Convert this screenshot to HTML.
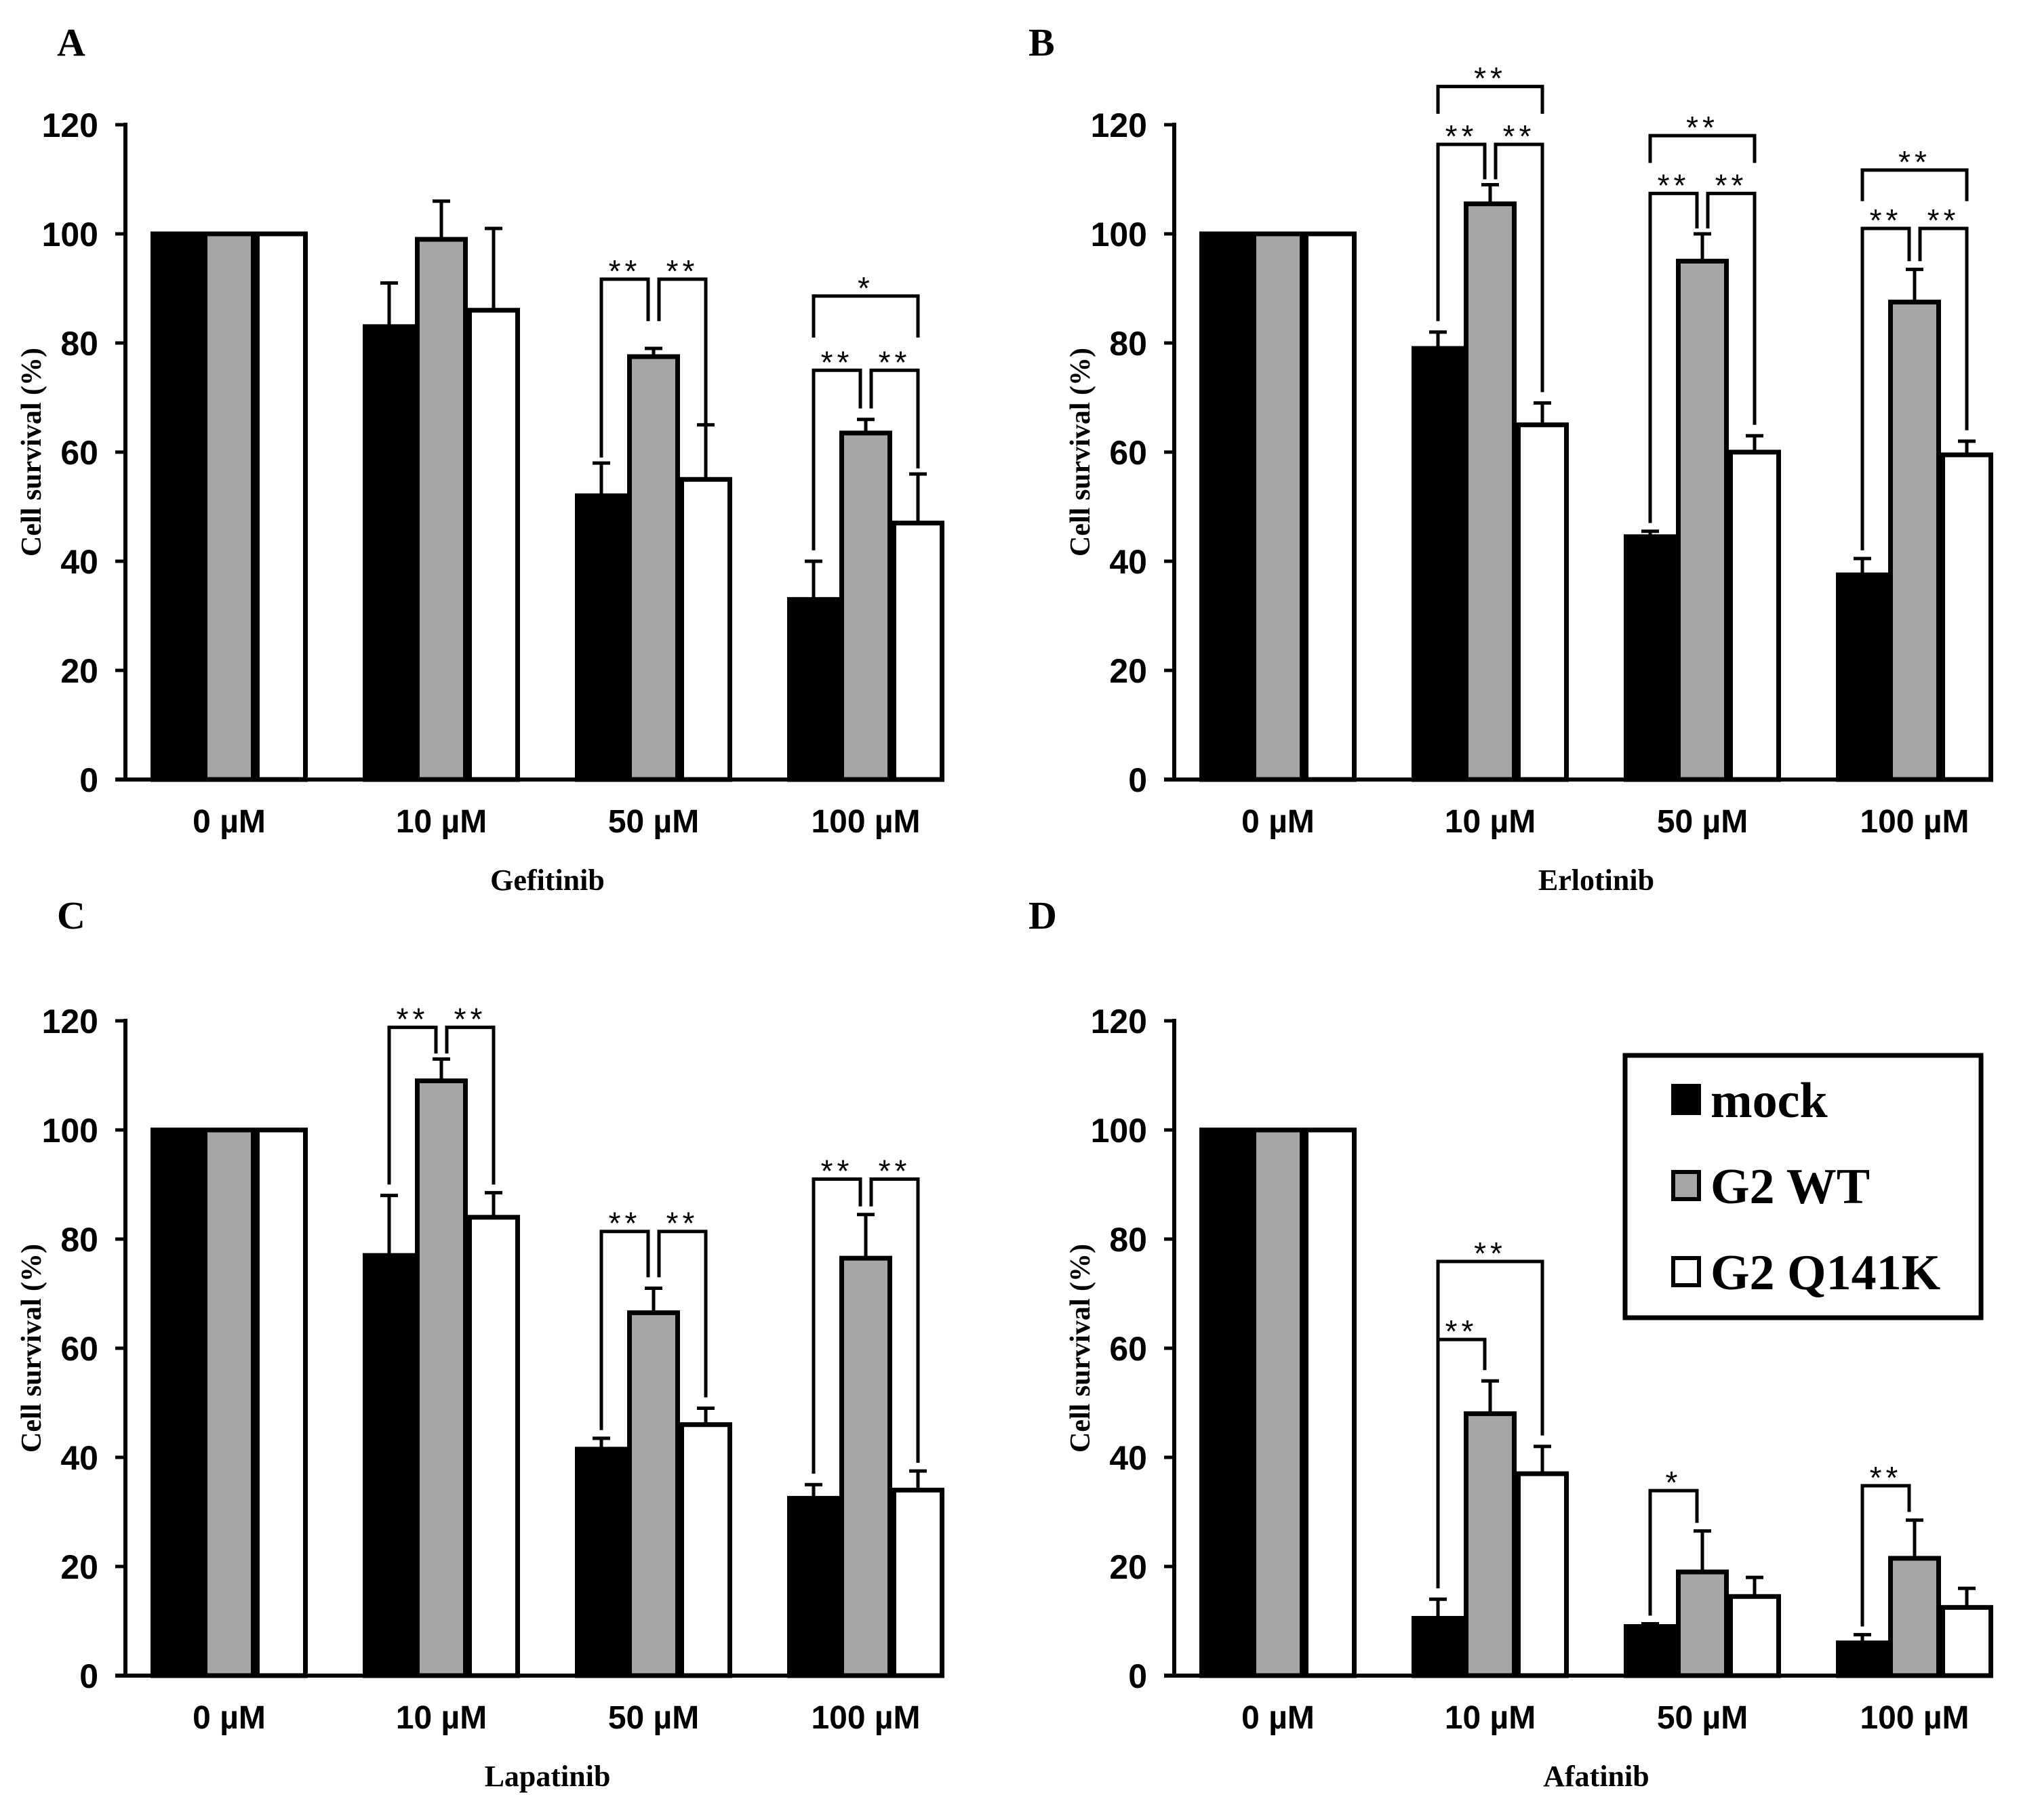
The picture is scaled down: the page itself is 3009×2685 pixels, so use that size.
<!DOCTYPE html>
<html><head><meta charset="utf-8"><style>
html,body{margin:0;padding:0;background:#fff;}
svg{display:block;}
</style></head><body>
<svg id="fig" width="3009" height="2685" viewBox="0 0 3009 2685" xmlns="http://www.w3.org/2000/svg"></svg>
<script>
const categories = ["0 µM","10 µM","50 µM","100 µM"];
const seriesNames = ["mock","G2 WT","G2 Q141K"];
const yTicks = [0,20,40,60,80,100,120];
const drugs = ["Gefitinib","Erlotinib","Lapatinib","Afatinib"];
const panelLetters = ["A","B","C","D"];
// values [group][series]
const valA = [[100,100,100],[83,99,86],[52,77.5,55],[33,63.5,47]];
const errA = [[100,100,100],[91,106,101],[58,79,65],[40,66,56]];
const valB = [[100,100,100],[79,105.5,65],[44.5,95,60],[37.5,87.5,59.5]];
const errB = [[100,100,100],[82,109,69],[45.5,100,63],[40.5,93.5,62]];
const valC = [[100,100,100],[77,109,84],[41.5,66.5,46],[32.5,76.5,34]];
const errC = [[100,100,100],[88,113,88.5],[43.5,71,49],[35,84.5,37.5]];
const valD = [[100,100,100],[10.5,48,37],[9,19,14.5],[6,21.5,12.5]];
const errD = [[100,100,100],[14,54,42],[9.5,26.5,18],[7.5,28.5,16]];
// brackets: [group, barI, barJ, level, legLeftEnd, legRightEnd, label]
const brA = [[2,0,1,91.7,59,84,"**"],[2,1,2,91.7,84,65,"**"],[3,0,1,75,42,68,"**"],[3,1,2,75,68,57,"**"],[3,0,2,88.6,81,81,"*"]];
const brB = [[1,0,1,116.4,84,110,"**"],[1,1,2,116.4,110,71,"**"],[1,0,2,127,122,122,"**"],
             [2,0,1,107.4,47,101,"**"],[2,1,2,107.4,101,65,"**"],[2,0,2,118,113,113,"**"],
             [3,0,1,101,42,95,"**"],[3,1,2,101,95,64,"**"],[3,0,2,111.7,106,106,"**"]];
const brC = [[1,0,1,118.8,90,114,"**"],[1,1,2,118.8,114,90,"**"],
             [2,0,1,81.4,45,73,"**"],[2,1,2,81.4,73,51,"**"],
             [3,0,1,91,37,86,"**"],[3,1,2,91,86,39,"**"]];
const brD = [[1,0,2,75.9,57,44,"**"],[1,0,1,61.6,16,56,"**"],[2,0,1,33.9,11,28,"*"],[3,0,1,34.8,9,30,"**"]];

const NS="http://www.w3.org/2000/svg";
const svg=document.getElementById('fig');
function mk(tag,attrs,parent,text){const e=document.createElementNS(NS,tag);for(const k in attrs)e.setAttribute(k,attrs[k]);if(text!==undefined)e.textContent=text;(parent||svg).appendChild(e);return e;}
const fills=["#000","#a6a6a6","#fff"];

const panels=[
 {ox:0,oy:0,lx:84,ly:82,val:valA,err:errA,br:brA},
 {ox:1547,oy:0,lx:1517,ly:82,val:valB,err:errB,br:brB},
 {ox:0,oy:1322,lx:84,ly:1370,val:valC,err:errC,br:brC},
 {ox:1547,oy:1322,lx:1517,ly:1370,val:valD,err:errD,br:brD}];

panels.forEach((p,pi)=>{
  const g=mk('g',{});
  
  
  const ax=185+p.ox, y0=1150+p.oy, yTop=184+p.oy, xEnd=1393+p.ox;
  const ys=v=>y0-(v/120)*(y0-yTop);
  const gc=i=>338+p.ox+i*313;
  const bw=77;
  const bx=(i,s)=>gc(i)-1.5*bw+s*bw;
  const L=mk('text',{x:p.lx,y:p.ly,'font-family':'Liberation Serif, serif','font-weight':'bold','font-size':58},g,panelLetters[pi]);
  
  p.val.forEach((grp,i)=>grp.forEach((v,s)=>{
    const r=mk('rect',{x:bx(i,s)+3,y:ys(v),width:bw-6,height:y0-ys(v),fill:fills[s],stroke:'#000','stroke-width':7},g);
    
    
    const e=p.err[i][s];
    if(e>v+0.3){
      const cx=bx(i,s)+bw/2;
      const eb=mk('path',{d:`M${cx},${ys(v)} V${ys(e)} M${cx-13},${ys(e)} H${cx+13}`,stroke:'#000','stroke-width':5,fill:'none'},g);
      
    }
  }));
  const ya=mk('line',{x1:ax,y1:yTop-3,x2:ax,y2:y0+3,stroke:'#000','stroke-width':6},g);
  
  const xa=mk('line',{x1:ax-15,y1:y0,x2:xEnd,y2:y0,stroke:'#000','stroke-width':6},g);
  
  yTicks.forEach(t=>{
    mk('line',{x1:ax-15,y1:ys(t),x2:ax,y2:ys(t),stroke:'#000','stroke-width':5},g);
    const tl=mk('text',{x:ax-40,y:ys(t)+18,'text-anchor':'end','font-family':'Liberation Sans, sans-serif','font-weight':'bold','font-size':50},g,String(t));
    
  });
  categories.forEach((c,i)=>{
    const cl=mk('text',{x:gc(i),y:y0+78,'text-anchor':'middle','font-family':'Liberation Sans, sans-serif','font-weight':'bold','font-size':48},g,c);
    
  });
  const yt=mk('text',{x:0,y:0,transform:`translate(${60+p.ox},${(y0+yTop)/2}) rotate(-90)`,'text-anchor':'middle','font-family':'Liberation Serif, serif','font-weight':'bold','font-size':42},g,'Cell survival (%)');
  
  const xt=mk('text',{x:gc(1.5),y:y0+163,'text-anchor':'middle','font-family':'Liberation Serif, serif','font-weight':'bold','font-size':44},g,drugs[pi]);
  
  p.br.forEach(b=>{
    const [gi,i,j,lev,l1,l2,lab]=b;
    const xl=bx(gi,i)+bw/2+(i===1?8:0), xr=bx(gi,j)+bw/2-(j===1?8:0);
    const bp=mk('path',{d:`M${xl},${ys(l1)} V${ys(lev)} H${xr} V${ys(l2)}`,stroke:'#000','stroke-width':5,fill:'none'},g);
    
    const st=mk('text',{x:(xl+xr)/2,y:ys(lev)+4,'text-anchor':'middle','font-family':'Liberation Sans, sans-serif','font-size':46,'letter-spacing':6},g,lab);
    
  });
});
const lg=mk('g',{});

mk('rect',{x:2397,y:1557,width:525,height:387,fill:'#fff',stroke:'#000','stroke-width':7},lg);
seriesNames.forEach((n,s)=>{
  const yy=1622+s*127;
  const sq=mk('rect',{x:2468,y:yy-20,width:38,height:40,fill:fills[s],stroke:'#000','stroke-width':6},lg);
  
  const t=mk('text',{x:2523,y:yy+26,'font-family':'Liberation Serif, serif','font-weight':'bold','font-size':74},lg,n);
  
});
</script>
</body></html>
